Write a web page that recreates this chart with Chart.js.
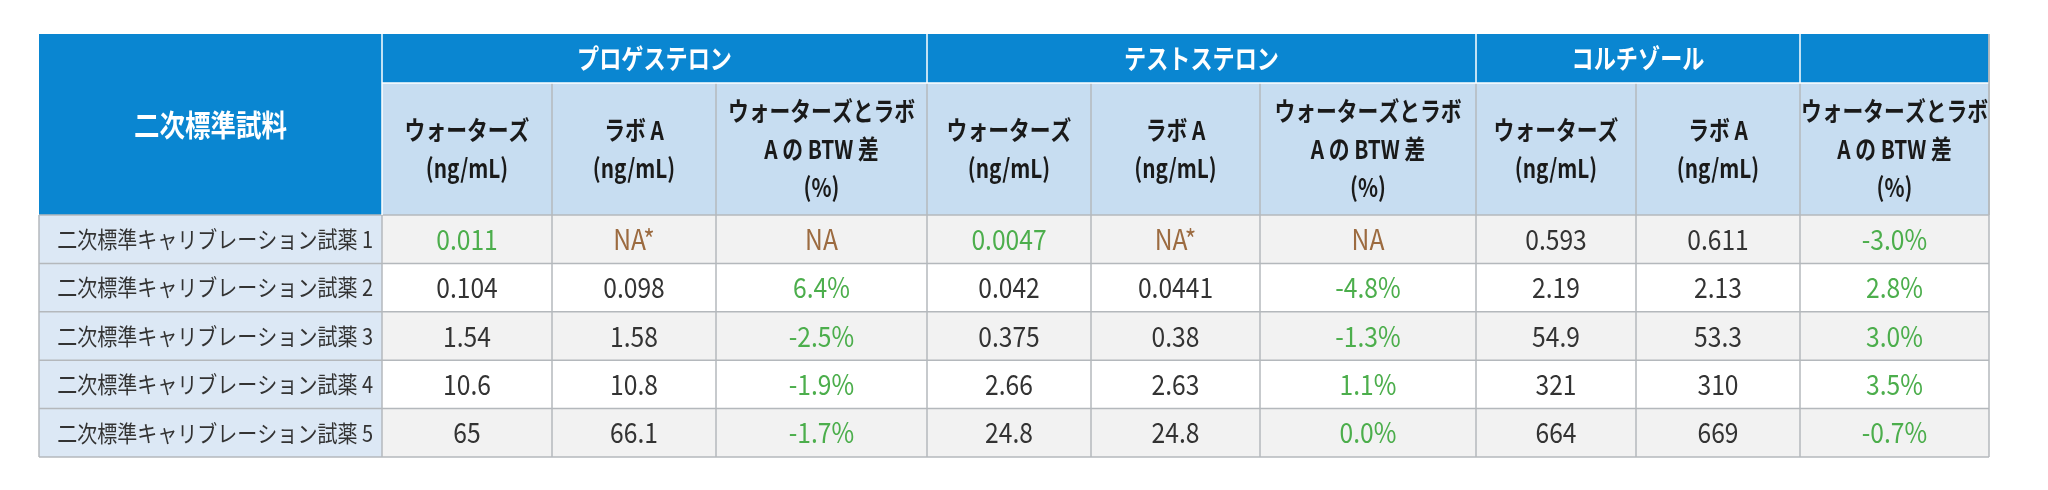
<!DOCTYPE html>
<html><head><meta charset="utf-8">
<script src="https://cdn.jsdelivr.net/npm/chart.js@4/dist/chart.umd.min.js"></script>
<style>html,body{margin:0;padding:0;background:#fff}canvas{display:block}</style>
</head><body>
<canvas id="c" width="2048" height="490"></canvas>
<script>
const rowHeader = "二次標準試料";
const groups = ["プロゲステロン", "テストステロン", "コルチゾール", ""];
const subHeaders = [["ウォーターズ","(ng/mL)"],["ラボ A","(ng/mL)"],["ウォーターズとラボ","A の BTW 差","(%)"]];
const categories = ["二次標準キャリブレーション試薬 1","二次標準キャリブレーション試薬 2","二次標準キャリブレーション試薬 3","二次標準キャリブレーション試薬 4","二次標準キャリブレーション試薬 5"];
const progWaters = ["0.011","0.104","1.54","10.6","65"];
const progLabA   = ["NA*","0.098","1.58","10.8","66.1"];
const progDiff   = ["NA","6.4%","-2.5%","-1.9%","-1.7%"];
const testWaters = ["0.0047","0.042","0.375","2.66","24.8"];
const testLabA   = ["NA*","0.0441","0.38","2.63","24.8"];
const testDiff   = ["NA","-4.8%","-1.3%","1.1%","0.0%"];
const cortWaters = ["0.593","2.19","54.9","321","664"];
const cortLabA   = ["0.611","2.13","53.3","310","669"];
const cortDiff   = ["-3.0%","2.8%","3.0%","3.5%","-0.7%"];
const belowLoqFirst = ["0.011","0.0047"]; // highlighted green values

const columns = [progWaters,progLabA,progDiff,testWaters,testLabA,testDiff,cortWaters,cortLabA,cortDiff];
// layout (pixel-space units on the hidden linear scales)
const colX = [39,382,552,716,927,1091,1260,1476,1636,1800,1989];
const groupSpans = [[1,4],[4,7],[7,9],[9,10]];
const yTop=34, yGroup=83, yHead=215, rowH=48.4;

const BLUE="#0a86d1", SUB="#c7ddf1", FIRST="#dce8f5", GRID="#b4b8bc";
const GREEN="#4cae4c", BROWN="#9c6b40", TXT="#333333";
const FONT='"Noto Sans CJK JP","Noto Sans",sans-serif';

function txt(ctx,s,x,y,sx,align){
  ctx.save(); ctx.translate(x,y); ctx.scale(sx,1); ctx.textAlign=align||'center';
  ctx.fillText(s,0,0); ctx.restore();
}

const tablePlugin = {
  id:'table',
  afterDraw(chart){
    const ctx=chart.ctx, xs=chart.scales.x, ys=chart.scales.y;
    const X=v=>xs.getPixelForValue(v), Y=v=>ys.getPixelForValue(v);
    ctx.save();
    ctx.textAlign='center'; ctx.textBaseline='middle';
    ctx.fillStyle=BLUE; ctx.fillRect(X(colX[0]),Y(yTop),X(colX[10])-X(colX[0]),Y(yGroup)-Y(yTop));
    ctx.fillRect(X(colX[0]),Y(yTop),X(colX[1])-X(colX[0]),Y(yHead)-Y(yTop));
    ctx.fillStyle=SUB; ctx.fillRect(X(colX[1]),Y(yGroup),X(colX[10])-X(colX[1]),Y(yHead)-Y(yGroup));
    categories.forEach((c,i)=>{
      const y0=Y(yHead+i*rowH), y1=Y(yHead+(i+1)*rowH);
      ctx.fillStyle=FIRST; ctx.fillRect(X(colX[0]),y0,X(colX[1])-X(colX[0]),y1-y0);
      ctx.fillStyle= i%2===0 ? "#f2f2f2" : "#ffffff";
      ctx.fillRect(X(colX[1]),y0,X(colX[10])-X(colX[1]),y1-y0);
    });
    ctx.strokeStyle=GRID; ctx.lineWidth=1.5;
    const yBot=yHead+categories.length*rowH;
    const line=(x0,y0,x1,y1)=>{ctx.beginPath();ctx.moveTo(X(x0),Y(y0));ctx.lineTo(X(x1),Y(y1));ctx.stroke();};
    for(let i=0;i<=categories.length;i++) line(colX[0],yHead+i*rowH,colX[10],yHead+i*rowH);
    line(colX[0],yHead,colX[0],yBot); line(colX[10],yTop,colX[10],yBot);
    for(let k=2;k<10;k++) line(colX[k],yGroup,colX[k],yBot);
    line(colX[1],yHead,colX[1],yBot);
    ctx.strokeStyle="#ffffff";
    groupSpans.forEach(s=>{ if(s[0]>1) line(colX[s[0]],yTop,colX[s[0]],yGroup); });
    line(colX[1],yTop,colX[1],yHead);
    line(colX[1],yGroup,colX[10],yGroup);
    ctx.strokeStyle=GRID; line(colX[10],yTop,colX[10],yHead);
    // header text
    ctx.fillStyle="#fff"; ctx.font='bold 30px '+FONT;
    txt(ctx,rowHeader,X((colX[0]+colX[1])/2),Y((yTop+yHead)/2),0.85);
    ctx.font='bold 27px '+FONT;
    groups.forEach((g,i)=>{const s=groupSpans[i];txt(ctx,g,X((colX[s[0]]+colX[s[1]])/2),Y((yTop+yGroup)/2),0.82);});
    ctx.fillStyle="#1a1a1a"; ctx.font='bold 26px '+FONT;
    for(let k=0;k<9;k++){
      const lines=subHeaders[k%3], cx=X((colX[k+1]+colX[k+2])/2), cy=(yGroup+yHead)/2;
      lines.forEach((t,j)=>txt(ctx,t,cx,Y(cy+(j-(lines.length-1)/2)*38),0.8));
    }
    // body text
    categories.forEach((c,i)=>{
      const cy=Y(yHead+(i+0.5)*rowH);
      ctx.fillStyle=TXT; ctx.font='23px '+FONT;
      txt(ctx,c,X(colX[1]-9),cy,0.87,'right');
      ctx.font='28px '+FONT;
      columns.forEach((col,k)=>{
        const v=col[i];
        let color=TXT;
        if(v.startsWith("NA")) color=BROWN;
        else if(v.endsWith("%")) color=GREEN;
        else if(i===0 && belowLoqFirst.includes(v)) color=GREEN;
        ctx.fillStyle=color;
        txt(ctx,v,X((colX[k+1]+colX[k+2])/2),cy,0.88);
      });
    });
    ctx.restore();
  }
};

new Chart(document.getElementById('c'),{
  type:'scatter',
  data:{datasets:[{data:[]}]},
  options:{
    responsive:false, animation:false, devicePixelRatio:1,
    layout:{padding:0},
    plugins:{legend:{display:false},tooltip:{enabled:false}},
    scales:{
      x:{type:'linear',min:0,max:2048,display:false},
      y:{type:'linear',min:0,max:490,reverse:true,display:false}
    }
  },
  plugins:[tablePlugin]
});
</script>
</body></html>
